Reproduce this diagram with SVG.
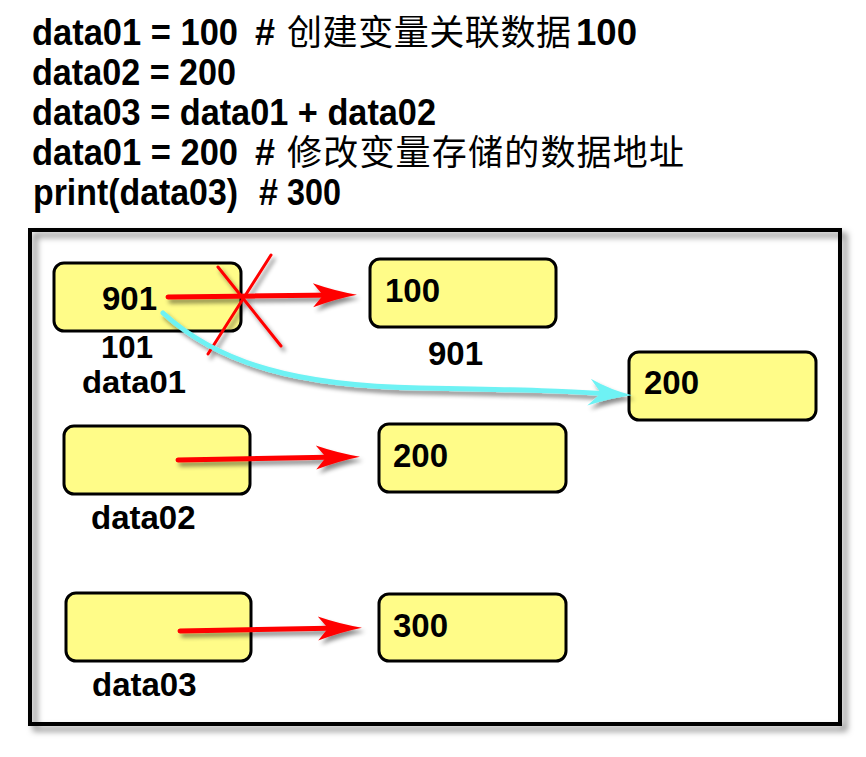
<svg xmlns="http://www.w3.org/2000/svg" width="866" height="757" viewBox="0 0 866 757">
  <style>
    .code { font-family: "Liberation Sans", Arial, sans-serif; font-weight: bold; font-size: 36px; fill: #000; }
    .cn { font-family: "Noto Sans CJK SC", "Noto Sans", sans-serif; font-weight: 400; font-size: 35px; }
    .box { fill: #FFFC88; stroke: #000; stroke-width: 3; }
    .lbl { font-family: "Liberation Sans", Arial, sans-serif; font-weight: bold; font-size: 33px; fill: #000; }
    .sm { font-size: 31px; }
    .red { fill: none; stroke: #FF0000; stroke-width: 5; stroke-linecap: round; }
    .cross { fill: none; stroke: #FF0000; stroke-width: 3; stroke-linecap: round; }
    .cyan { fill: none; stroke: #6EF2F4; stroke-width: 5; stroke-linecap: round; }
  </style>
  <defs>
    <filter id="shadow" x="-20%" y="-20%" width="140%" height="160%">
      <feDropShadow dx="3" dy="4" stdDeviation="2" flood-color="#000" flood-opacity="0.45"/>
    </filter>
    <filter id="frameShadow" x="-5%" y="-5%" width="110%" height="110%">
      <feDropShadow dx="5" dy="5" stdDeviation="3" flood-color="#000" flood-opacity="0.5"/>
    </filter>
    <marker id="headRed" markerUnits="userSpaceOnUse" viewBox="-26 -14 48 28" refX="0" refY="0" markerWidth="48" markerHeight="28" orient="auto">
      <path d="M20,0 Q-2,-4 -24,-12 L-14,0 L-24,12 Q-2,4 20,0 Z" fill="#FF0000"/>
    </marker>
    <marker id="headCyan" markerUnits="userSpaceOnUse" viewBox="-26 -14 48 28" refX="0" refY="0" markerWidth="48" markerHeight="28" orient="auto">
      <path d="M20,0 Q-2,-4 -22,-14 L-11,0 L-24,13 Q-2,4 20,0 Z" fill="#6EF2F4"/>
    </marker>
  </defs>

  <rect width="866" height="757" fill="#FFFFFF"/>

  <g id="code">
    <text class="code" y="45"><tspan x="32" textLength="206" lengthAdjust="spacingAndGlyphs">data01 = 100</tspan><tspan x="255" textLength="20" lengthAdjust="spacingAndGlyphs">#</tspan><tspan class="cn" x="287" textLength="284" lengthAdjust="spacing">创建变量关联数据</tspan><tspan x="576" textLength="61" lengthAdjust="spacingAndGlyphs">100</tspan></text>
    <text class="code" y="85"><tspan x="32" textLength="204" lengthAdjust="spacingAndGlyphs">data02 = 200</tspan></text>
    <text class="code" y="125"><tspan x="32" textLength="404" lengthAdjust="spacingAndGlyphs">data03 = data01 + data02</tspan></text>
    <text class="code" y="165"><tspan x="32" textLength="206" lengthAdjust="spacingAndGlyphs">data01 = 200</tspan><tspan x="255" textLength="20" lengthAdjust="spacingAndGlyphs">#</tspan><tspan class="cn" x="287" textLength="397" lengthAdjust="spacing">修改变量存储的数据地址</tspan></text>
    <text class="code" y="205"><tspan x="33" textLength="205" lengthAdjust="spacingAndGlyphs">print(data03)</tspan><tspan x="259" textLength="19" lengthAdjust="spacingAndGlyphs">#</tspan><tspan x="287" textLength="54" lengthAdjust="spacingAndGlyphs">300</tspan></text>
  </g>

  <g id="frame">
    <rect x="30" y="230" width="810" height="494" fill="none" stroke="#000" stroke-width="4" filter="url(#frameShadow)"/>
  </g>

  <g id="node-data01">
    <rect class="box" x="54" y="263" width="187" height="68" rx="10"/>
    <text class="lbl" x="102" y="310">901</text>
    <text class="lbl sm" x="101" y="358" textLength="52" lengthAdjust="spacingAndGlyphs">101</text>
    <text class="lbl sm" x="82" y="393" textLength="104" lengthAdjust="spacingAndGlyphs">data01</text>
  </g>
  <g id="node-100">
    <rect class="box" x="370" y="259" width="186" height="68" rx="10"/>
    <text class="lbl" x="385" y="302">100</text>
    <text class="lbl" x="428" y="365">901</text>
  </g>
  <g id="node-200-new">
    <rect class="box" x="629" y="352" width="187" height="68" rx="10"/>
    <text class="lbl" x="644" y="394">200</text>
  </g>
  <g id="node-data02">
    <rect class="box" x="64" y="426" width="186" height="68" rx="10"/>
    <text class="lbl" x="91" y="529">data02</text>
  </g>
  <g id="node-200">
    <rect class="box" x="379" y="424" width="187" height="68" rx="10"/>
    <text class="lbl" x="393" y="467">200</text>
  </g>
  <g id="node-data03">
    <rect class="box" x="66" y="593" width="185" height="68" rx="10"/>
    <text class="lbl" x="92" y="696">data03</text>
  </g>
  <g id="node-300">
    <rect class="box" x="379" y="594" width="187" height="67" rx="10"/>
    <text class="lbl" x="393" y="637">300</text>
  </g>

  <g id="connectors" filter="url(#shadow)">
    <path class="red" d="M168,297 L337,295" marker-end="url(#headRed)"/>
    <path class="cross" d="M208,354 L271,255"/>
    <path class="cross" d="M218,267 L281,346"/>
    <path class="cyan" d="M163,313 C220,365 300,386 420,388 S560,391 612,394" marker-end="url(#headCyan)"/>
    <path class="red" d="M178,460 L340,457" marker-end="url(#headRed)"/>
    <path class="red" d="M180,631 L342,628" marker-end="url(#headRed)"/>
  </g>
</svg>
